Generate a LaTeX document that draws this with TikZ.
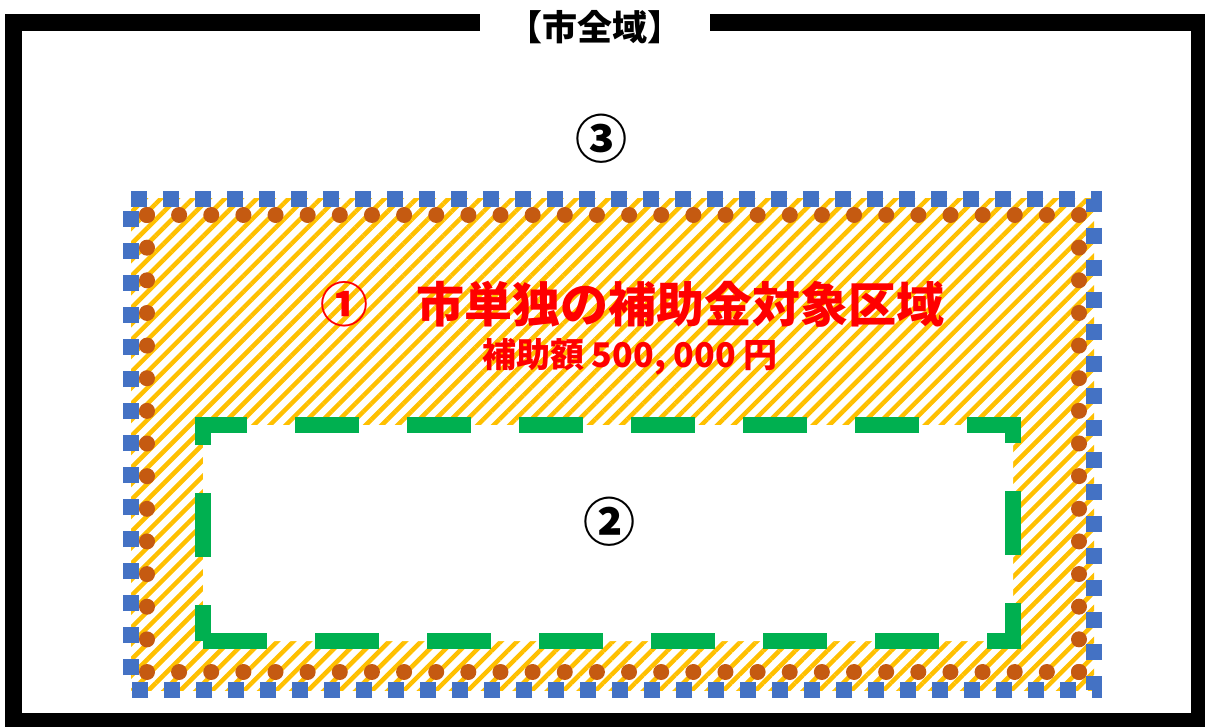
\documentclass[tikz,border=0pt]{standalone}
\usepackage{fontspec}
\newfontfamily\jpfont{Noto Sans CJK JP}
\usepackage{tikz}
\usetikzlibrary{patterns.meta}
\definecolor{areablue}{HTML}{4472C4}
\definecolor{dotbrown}{HTML}{C55A11}
\definecolor{innergreen}{HTML}{00B050}
\definecolor{hatchorange}{HTML}{FFC000}

\begin{document}
\begin{tikzpicture}[x=1pt, y=-1pt,
			wholecity/.style={draw=black, line width=17pt},
			cityarea/.style={draw=areablue, line width=16pt, dash pattern=on 16pt off 16pt},
			dotborder/.style={draw=dotbrown, line width=16pt, line cap=round},
			innerarea/.style={draw=innergreen, fill=white, line width=16pt, dash pattern=on 64pt off 48pt, dash phase=28pt},
			areatext/.style={inner sep=0pt}]
			\useasboundingbox (0,0) rectangle (1205,727);
			\fill[white] (0,0) rectangle (1205,727);
			
			% whole city
			\draw[wholecity] (13.5,22.5) rectangle (1199.5,721.5);
			\node[areatext, fill=white, minimum width=230pt, minimum height=36pt, font={\jpfont\bfseries\fontsize{35pt}{35pt}\selectfont}](title) at (595,27) {【市全域】};
			
			% subsidy area
			\fill[pattern={Lines[angle=45, distance=11.3pt, line width=4.5pt]}, pattern color=hatchorange] (131,199) rectangle (1094,690);
			\draw[innerarea] (203,641) -- (203,425) -- (1013,425) -- (1013,641) -- (203,641);
			\draw[cityarea] (131,199) -- (1094,199) -- (1094,690) -- (131,690) -- cycle;
			\draw[dotborder, dash pattern=on 0pt off 32.14pt] (147,215) -- (1079,215);
			\draw[dotborder, dash pattern=on 0pt off 32.64pt] (1079,215) -- (1079,672);
			\draw[dotborder, dash pattern=on 0pt off 32.14pt] (1079,672) -- (147,672);
			\draw[dotborder, dash pattern=on 0pt off 32.64pt] (147,672) -- (147,215);
			
			\node[areatext, font={\jpfont\bfseries\fontsize{52pt}{52pt}\selectfont}](area3) at (601,139) {③};
			\node[areatext, text=red, font={\jpfont\bfseries\fontsize{48pt}{48pt}\selectfont}](area1) at (632,304) {①　市単独の補助金対象区域};
			\node[areatext, text=red, font={\jpfont\bfseries\fontsize{34pt}{34pt}\selectfont}](amount) at (630,357) {補助額 500, 000 円};
			\node[areatext, font={\jpfont\bfseries\fontsize{52pt}{52pt}\selectfont}](area2) at (609,522) {②};
		\end{tikzpicture}
\end{document}
